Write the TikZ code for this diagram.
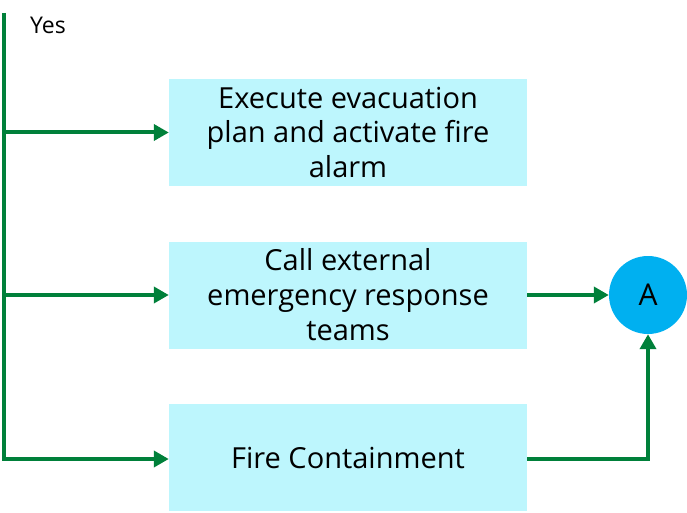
\documentclass[tikz,border=0pt]{standalone}
\usepackage{fontspec}
\setmainfont{Open Sans}
\usetikzlibrary{arrows.meta}
\definecolor{flowgreen}{HTML}{00803A}
\definecolor{boxcyan}{HTML}{BDF6FD}
\definecolor{circblue}{HTML}{00B0F0}

\begin{document}
\begin{tikzpicture}[x=1pt, y=-1pt,
    actbox/.style={fill=boxcyan, minimum width=358pt, minimum height=107pt,
        align=center, font=\fontsize{29}{35}\selectfont},
    conn/.style={flowgreen, line width=4pt, -{Triangle[length=15pt, width=16pt]}}]
    \useasboundingbox (0,0) rectangle (687,513);

    % Boxes
    \node[actbox] (evac) at (348,132.5) {Execute evacuation\\plan and activate fire\\alarm};
    \node[actbox] (call) at (348,295) {Call external\\emergency response\\teams};
    \node[actbox] (contain) at (348,457.5) {Fire Containment};

    % Connector circle
    \node[circle, fill=circblue, minimum size=78pt, inner sep=0pt,
        font=\fontsize{30}{34}\selectfont] (conA) at (648,295) {A};

    % Yes branch
    \coordinate (top) at (4,13);
    \node[anchor=west, inner sep=0pt, font=\fontsize{23}{26}\selectfont] (yes) at (30,25) {Yes};
    \draw[flowgreen, line width=4pt] (top) -- (4,459);
    \draw[conn] (4,132.5) -- (evac.west);
    \draw[conn] (4,295) -- (call.west);
    \draw[conn] (2,459) -- (contain.west |- 0,459);

    % To A
    \draw[conn] (call.east) -- (conA.west);
    \draw[conn] (contain.east |- 0,459) -| (conA.south);
\end{tikzpicture}
\end{document}
